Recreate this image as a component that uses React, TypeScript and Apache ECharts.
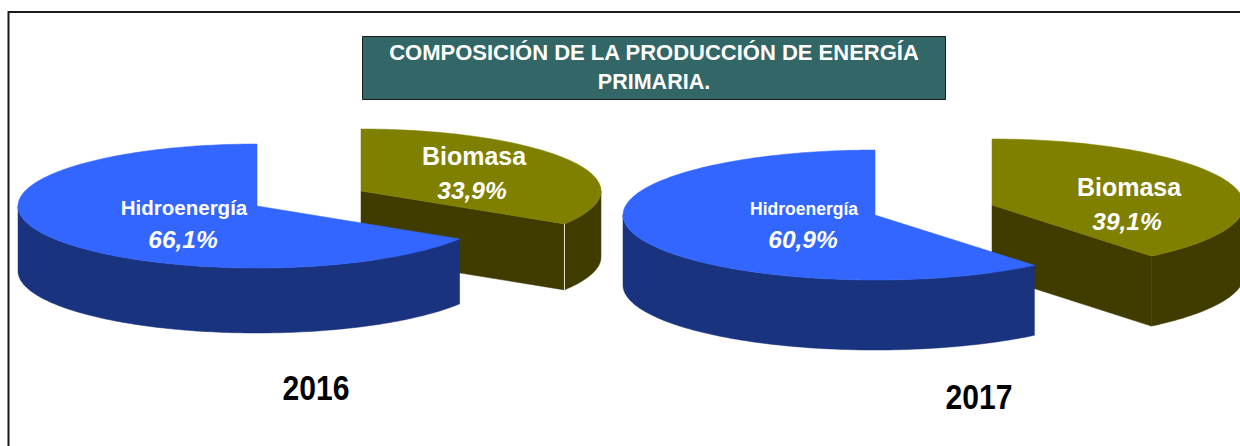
import React, { useEffect, useRef } from "react";
import * as echarts from "echarts";

const years = ["2016", "2017"];
const sources = ["Hidroenergía", "Biomasa"];
const hidroenergia = [66.1, 60.9];
const biomasa = [33.9, 39.1];
const titleLines = ["COMPOSICIÓN DE LA PRODUCCIÓN DE ENERGÍA", "PRIMARIA."];

const SANS = '"Liberation Sans", Arial, sans-serif';
const TOP = { Hidroenergía: "#3366ff", Biomasa: "#808000" } as Record<string, string>;
const WALL = { Hidroenergía: "#19337f", Biomasa: "#403c00" } as Record<string, string>;

// ellipse geometry of each exploded slice: [year][source]
const geometry = [
  [
    { cx: 257, cy: 206, rx: 239, ry: 62, depth: 65 },
    { cx: 361, cy: 191, rx: 240, ry: 62, depth: 66 },
  ],
  [
    { cx: 875, cy: 215, rx: 252, ry: 65, depth: 70 },
    { cx: 992, cy: 205, rx: 252, ry: 66, depth: 70 },
  ],
];

const seriesData: number[][] = [];
years.forEach((_, y) => {
  seriesData.push([y, 1, biomasa[y]]);
  seriesData.push([y, 0, hidroenergia[y]]);
});

function renderSlice(_: any, api: any) {
  const y = api.value(0) as number;
  const s = api.value(1) as number;
  const value = api.value(2) as number;
  const g = geometry[y][s];
  const sweep = value * 3.6;
  // angles measured clockwise from 12 o'clock
  const start = s === 1 ? 0 : 360 - sweep;
  const end = s === 1 ? sweep : 360;
  const pt = (t: number, dz = 0) => {
    const r = (t * Math.PI) / 180;
    return [g.cx + g.rx * Math.sin(r), g.cy - g.ry * Math.cos(r) + dz];
  };
  const arc = (a: number, b: number, dz = 0) => {
    const n = Math.max(2, Math.ceil(Math.abs(b - a)));
    const out: number[][] = [];
    for (let i = 0; i <= n; i++) out.push(pt(a + ((b - a) * i) / n, dz));
    return out;
  };
  const children: any[] = [];
  const wall = WALL[sources[s]];
  const addPoly = (points: number[][], fill: string) =>
    children.push({
      type: "polygon",
      shape: { points },
      style: { fill, stroke: fill, lineWidth: 0.5 },
    });
  const wa = Math.max(start, 90);
  const wb = Math.min(end, 270);
  if (wb > wa) addPoly([...arc(wa, wb), ...arc(wb, wa, g.depth)], wall);
  if (end > 0 && end < 180) {
    addPoly(
      [[g.cx, g.cy], pt(end), pt(end, g.depth), [g.cx, g.cy + g.depth]],
      wall
    );
  }
  addPoly([[g.cx, g.cy], ...arc(start, end)], TOP[sources[s]]);
  if (s === 1 && y === 0) {
    const a = pt(end);
    const b = pt(end, g.depth);
    children.push({
      type: "line",
      shape: { x1: a[0], y1: a[1], x2: b[0], y2: b[1] },
      style: { stroke: "#e8e8d8", lineWidth: 1 },
    });
  }
  return { type: "group", children };
}

const fmt = (v: number) => `${v.toFixed(1).replace(".", ",")}%`;

const text = (
  t: string,
  x: number,
  y: number,
  size: number,
  fill = "#ffffff",
  extra: any = {},
  styleExtra: any = {}
) => ({
  type: "text",
  x,
  y,
  z: 20,
  ...extra,
  style: {
    text: t,
    fill,
    font: `bold ${size}px ${SANS}`,
    align: "center",
    verticalAlign: "middle",
    ...styleExtra,
  },
});

const italic = (size: number) => ({ font: `italic bold ${size}px ${SANS}` });

export default function App() {
  const ref = useRef<HTMLDivElement>(null);
  useEffect(() => {
    document.body.style.margin = "0";
    const chart = echarts.init(ref.current!, null, { renderer: "svg" });
    chart.setOption({
      animation: false,
      backgroundColor: "#ffffff",
      series: [
        {
          type: "custom",
          coordinateSystem: "none",
          renderItem: renderSlice,
          data: seriesData,
          silent: true,
          clip: false,
        },
      ],
      graphic: [
        {
          type: "rect",
          z: 1,
          shape: { x: 8.5, y: 12, width: 1400, height: 600 },
          style: { fill: "none", stroke: "#1a1a1a", lineWidth: 2 },
        },
        {
          type: "rect",
          z: 1,
          shape: { x: 362.5, y: 36.5, width: 583, height: 63 },
          style: { fill: "#336666", stroke: "#1a1a1a", lineWidth: 1 },
        },
        text(titleLines[0], 654, 52, 22),
        text(titleLines[1], 654, 82, 21.5),
        text(sources[0], 184, 207, 20.5),
        text(fmt(hidroenergia[0]), 183, 239, 24.5, "#ffffff", {}, italic(24.5)),
        text(sources[1], 474, 156, 25),
        text(fmt(biomasa[0]), 472, 190, 24.5, "#ffffff", {}, italic(24.5)),
        text(sources[0], 804, 209, 17.5),
        text(fmt(hidroenergia[1]), 803, 239, 24.5, "#ffffff", {}, italic(24.5)),
        text(sources[1], 1129, 187, 25),
        text(fmt(biomasa[1]), 1127, 221, 24.5, "#ffffff", {}, italic(24.5)),
        text(years[0], 316, 388, 35, "#000000", { scaleX: 0.86 }),
        text(years[1], 979, 397, 35, "#000000", { scaleX: 0.86 }),
      ],
    });
    return () => chart.dispose();
  }, []);
  return <div ref={ref} style={{ width: 1240, height: 446 }} />;
}
